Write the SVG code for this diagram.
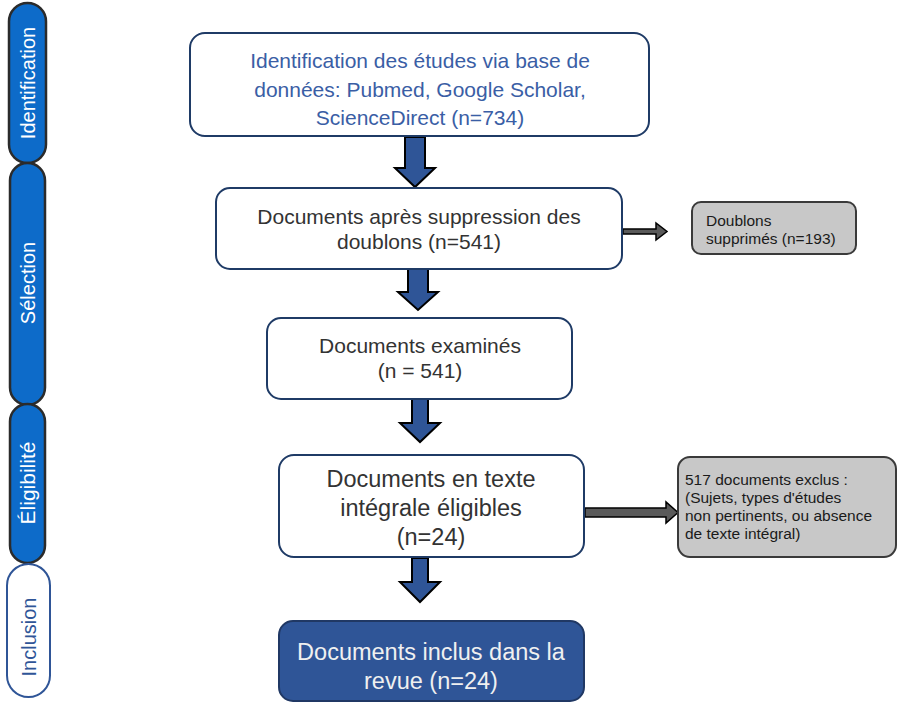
<svg xmlns="http://www.w3.org/2000/svg" width="898" height="705" viewBox="0 0 898 705">
<style>
.pill{fill:#0d6bc9;stroke:#2b2b2b;stroke-width:2.5}
.pilltxt{font-family:"Liberation Sans",Arial,sans-serif;font-size:20px;fill:#ffffff;text-anchor:middle}
.box{fill:#ffffff;stroke:#1f3b66;stroke-width:2}
.t{font-family:"Liberation Sans",Arial,sans-serif;fill:#333333;text-anchor:middle}
.side{fill:#c8c8c8;stroke:#3a3a3a;stroke-width:2}
.st{font-family:"Liberation Sans",Arial,sans-serif;font-size:15.5px;fill:#1a1a1a}
.down{fill:#2f5597;stroke:#000000;stroke-width:2;stroke-linejoin:miter}
.right{fill:#5a5a5a;stroke:#000000;stroke-width:1.5}
</style>
<rect width="898" height="705" fill="#ffffff"/>

<g id="phase-identification">
<rect class="pill" x="9" y="3" width="37" height="160" rx="18.5"/>
<text class="pilltxt" transform="translate(35,83) rotate(-90)">Identification</text>
</g>
<g id="phase-selection">
<rect class="pill" x="10" y="163" width="35" height="242" rx="17.5"/>
<text class="pilltxt" transform="translate(35,283) rotate(-90)">Sélection</text>
</g>
<g id="phase-eligibilite">
<rect class="pill" x="10" y="404" width="35" height="159" rx="17.5"/>
<text class="pilltxt" transform="translate(35,483) rotate(-90)" style="font-size:21px">Éligibilité</text>
</g>
<g id="phase-inclusion">
<rect x="7" y="564" width="43" height="133" rx="21.5" fill="#ffffff" stroke="#2f5597" stroke-width="2"/>
<text class="pilltxt" transform="translate(36,637) rotate(-90)" style="fill:#2f5597">Inclusion</text>
</g>

<g id="connectors">
<polygon class="down" points="405,137 425,137 425,168 435,168 415,187 395,168 405,168"/>
<polygon class="down" points="408,269 428,269 428,292 438,292 418,310 398,292 408,292"/>
<polygon class="down" points="412,399 428,399 428,423 440,423 420,442 400,423 412,423"/>
<polygon class="down" points="412,558 428,558 428,582 440,582 420,602 400,582 412,582"/>
<polygon class="right" points="623,229 656,229 656,223 667,231.5 656,240 656,234 623,234"/>
<polygon class="right" points="585,508 666,508 666,502 678,512.5 666,523 666,517 585,517"/>
</g>

<g id="n-identification">
<rect class="box" x="190" y="33" width="459" height="103" rx="15"/>
<text class="t" style="font-size:21px;fill:#3a5ea5" x="420" y="68">Identification des études via base de</text>
<text class="t" style="font-size:21px;fill:#3a5ea5" x="420" y="97">données: Pubmed, Google Scholar,</text>
<text class="t" style="font-size:21px;fill:#3a5ea5" x="420" y="125">ScienceDirect (n=734)</text>
</g>

<g id="n-doublons">
<rect class="box" x="216" y="188" width="406" height="81" rx="14"/>
<text class="t" style="font-size:21px" x="419" y="224">Documents après suppression des</text>
<text class="t" style="font-size:21px" x="419" y="249">doublons (n=541)</text>
</g>

<g id="n-supprimes">
<rect class="side" x="692" y="202" width="164" height="52" rx="9"/>
<text class="st" x="706" y="226">Doublons</text>
<text class="st" x="706" y="244">supprimés (n=193)</text>
</g>

<g id="n-examines">
<rect class="box" x="267" y="318" width="305" height="81" rx="14"/>
<text class="t" style="font-size:21px" x="420" y="353">Documents examinés</text>
<text class="t" style="font-size:21px" x="420" y="378">(n = 541)</text>
</g>

<g id="n-eligibles">
<rect class="box" x="279" y="455" width="305" height="102" rx="15"/>
<text class="t" style="font-size:23.5px" x="431" y="487">Documents en texte</text>
<text class="t" style="font-size:23.5px" x="431" y="516">intégrale éligibles</text>
<text class="t" style="font-size:23.5px" x="431" y="545">(n=24)</text>
</g>

<g id="n-exclus">
<rect class="side" x="678" y="457" width="218" height="100" rx="12"/>
<text class="st" x="685" y="485">517 documents exclus :</text>
<text class="st" x="685" y="503">(Sujets, types d'études</text>
<text class="st" x="685" y="521">non pertinents, ou absence</text>
<text class="st" x="685" y="539">de texte intégral)</text>
</g>

<g id="n-inclus">
<rect x="279" y="621" width="305" height="80" rx="14" fill="#2f5597" stroke="#203864" stroke-width="2"/>
<text class="t" style="font-size:23.5px;fill:#f0f0f0" x="431" y="660">Documents inclus dans la</text>
<text class="t" style="font-size:23.5px;fill:#f0f0f0" x="431" y="689">revue (n=24)</text>
</g>
</svg>
